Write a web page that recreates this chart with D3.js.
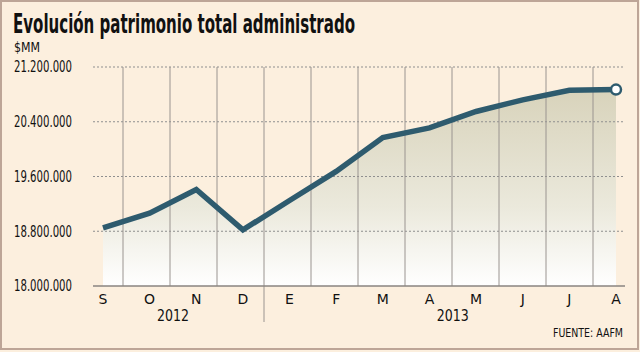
<!DOCTYPE html>
<html><head><meta charset="utf-8">
<script src="https://cdn.jsdelivr.net/npm/d3@7"></script>
<style>
html,body{margin:0;padding:0;background:#fcefde;}
svg{display:block;}
</style></head>
<body>
<svg id="c" width="640" height="352"></svg>
<script>
const months = ["S","O","N","D","E","F","M","A","M","J","J","A"];
const years = [{label:"2012", from:0, to:3},{label:"2013", from:4, to:11}];
const values = [18850000,19065000,19410000,18820000,19250000,19675000,20170000,20310000,20550000,20720000,20860000,20870000];
const yTicks = [18000000,18800000,19600000,20400000,21200000];
const title = "Evolución patrimonio total administrado";
const unit = "$MM";
const source = "FUENTE: AAFM";

const svg = d3.select("#c");
const W=640,H=352;
const narrow = "'DejaVu Sans Condensed',sans-serif";

svg.append("rect").attr("x",1).attr("y",1).attr("width",W-3).attr("height",H-4)
  .attr("fill","#fcefde").attr("stroke","#bda597").attr("stroke-width",2);

const plotL=93, plotR=625, plotT=67, plotB=286;
const x = d3.scalePoint().domain(d3.range(months.length)).range([103,616]);
const y = d3.scaleLinear().domain([18000000,21200000]).range([plotB,plotT]);
const grid = d3.scalePoint().domain(d3.range(months.length-1)).range([123,593]);

const defs = svg.append("defs");
const lg = defs.append("linearGradient").attr("id","g").attr("gradientUnits","userSpaceOnUse")
  .attr("x1",0).attr("x2",0).attr("y1",90).attr("y2",plotB);
lg.append("stop").attr("offset",0).attr("stop-color","#d8d3bb");
lg.append("stop").attr("offset",0.6).attr("stop-color","#ebe9dc");
lg.append("stop").attr("offset",1).attr("stop-color","#ffffff");

const area = d3.area().x((d,i)=>x(i)).y0(plotB).y1(d=>y(d));
svg.append("path").datum(values).attr("d",area).attr("fill","url(#g)");

svg.append("g").selectAll("line").data(yTicks.filter(t=>t>yTicks[0])).join("line")
  .attr("x1",plotL).attr("x2",plotR).attr("y1",d=>y(d)).attr("y2",d=>y(d))
  .attr("stroke","#8f8f8f").attr("stroke-width",1).attr("stroke-dasharray","2,2");

svg.append("g").selectAll("line").data(d3.range(months.length-1)).join("line")
  .attr("x1",d=>grid(d)).attr("x2",d=>grid(d))
  .attr("y1",plotT).attr("y2",d=>d===years[0].to?322:plotB)
  .attr("stroke","#9a9490").attr("stroke-width",1);

svg.append("line").attr("x1",plotL).attr("x2",plotR).attr("y1",plotB).attr("y2",plotB)
  .attr("stroke","#8a8580").attr("stroke-width",1.3);

const line = d3.line().x((d,i)=>x(i)).y(d=>y(d));
svg.append("path").datum(values).attr("d",line).attr("fill","none")
  .attr("stroke","#2e5b6e").attr("stroke-width",5.5).attr("stroke-linejoin","miter");

svg.append("circle").attr("cx",x(values.length-1)).attr("cy",y(values[values.length-1]))
  .attr("r",5).attr("fill","#ffffff").attr("stroke","#2e5b6e").attr("stroke-width",2.5);

const fmt = v => d3.format(",")(v).replace(/,/g,".");
svg.append("g").selectAll("text").data(yTicks).join("text")
  .attr("x",72).attr("y",d=>y(d)).attr("dy","0.36em").attr("text-anchor","end")
  .attr("font-family",narrow).attr("font-size",15).attr("fill","#111")
  .attr("textLength",58).attr("lengthAdjust","spacingAndGlyphs")
  .text(fmt);

svg.append("g").selectAll("text").data(months).join("text")
  .attr("x",(d,i)=>x(i)).attr("y",304).attr("text-anchor","middle")
  .attr("font-family","'DejaVu Sans',sans-serif").attr("font-size",14).attr("fill","#111")
  .text(d=>d);

svg.append("g").selectAll("text").data(years).join("text")
  .attr("x",d=>(x(d.from)+x(d.to))/2).attr("y",321).attr("text-anchor","middle")
  .attr("font-family",narrow).attr("font-size",15).attr("fill","#111")
  .attr("textLength",32).attr("lengthAdjust","spacingAndGlyphs")
  .text(d=>d.label);

svg.append("text").attr("x",13).attr("y",33).attr("font-family",narrow)
  .attr("font-weight","bold").attr("font-size",26).attr("fill","#111")
  .attr("textLength",342).attr("lengthAdjust","spacingAndGlyphs").text(title);

svg.append("text").attr("x",14).attr("y",52).attr("font-family",narrow)
  .attr("font-size",14).attr("fill","#111")
  .attr("textLength",26).attr("lengthAdjust","spacingAndGlyphs").text(unit);

svg.append("text").attr("x",623).attr("y",337).attr("text-anchor","end").attr("font-family",narrow)
  .attr("font-size",12).attr("fill","#111")
  .attr("textLength",70).attr("lengthAdjust","spacingAndGlyphs").text(source);
</script>
</body></html>
